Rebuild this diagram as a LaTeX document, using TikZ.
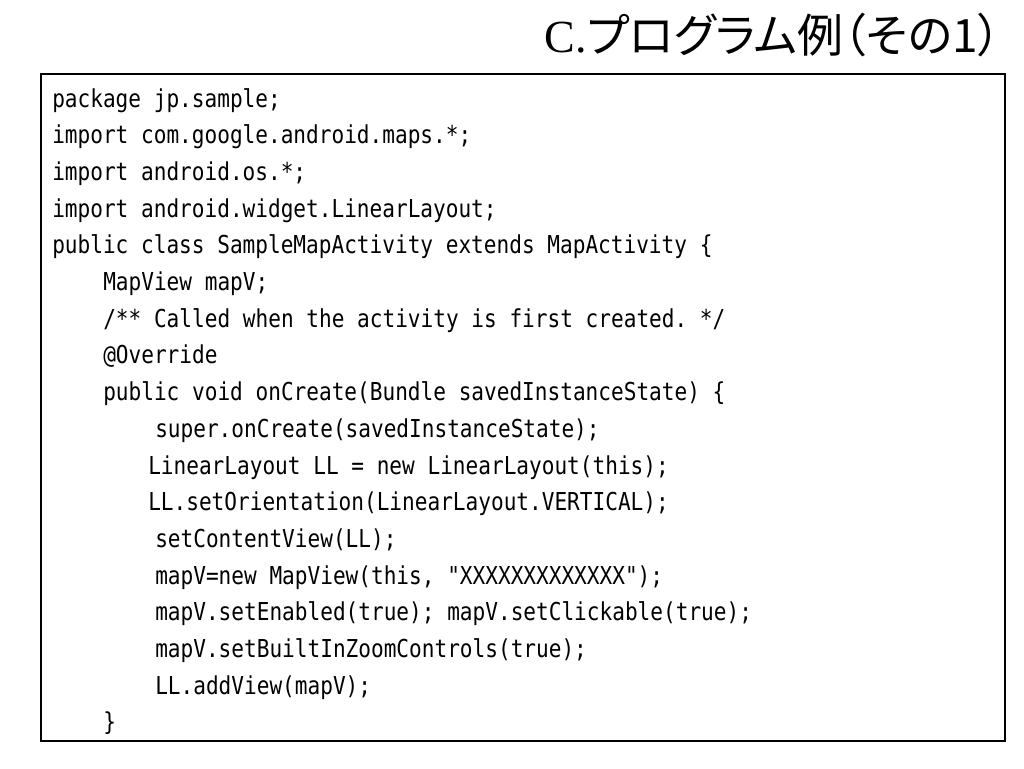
\documentclass[tikz,border=0pt]{standalone}
\usepackage{fontspec}
\setmonofont[FakeStretch=0.855]{DejaVu Sans Mono}
\newfontfamily\jpfont[RawFeature={+palt}]{Noto Sans CJK JP}
\newfontfamily\titleserif{Liberation Serif}
\newcommand\codefont{\ttfamily\fontsize{18.5}{18.5}\selectfont}

\begin{document}
\begin{tikzpicture}[
      x=0.75pt, y=-0.75pt,
      codeline/.style={anchor=base west, inner sep=0pt, font=\codefont},
      slide title/.style={anchor=base east, inner sep=0pt, font=\fontsize{34.5}{34.5}\selectfont}]
    \useasboundingbox (0,0) rectangle (1024,768);
    \node[slide title] (title) at (1001,52) {{\titleserif C.}{\jpfont プログラム例（その1）}};
    \draw[line width=1.9pt] (41,74) rectangle (1005,741);
    % code lines
    \node[codeline] (l1)  at (52,107)   {package jp.sample;};
    \node[codeline] (l2)  at (52,143.7) {import com.google.android.maps.*;};
    \node[codeline] (l3)  at (52,180.4) {import android.os.*;};
    \node[codeline] (l4)  at (52,217.1) {import android.widget.LinearLayout;};
    \node[codeline] (l5)  at (52,253.8) {public class SampleMapActivity extends MapActivity \{};
    \node[codeline] (l6)  at (103,290.5) {MapView mapV;};
    \node[codeline] (l7)  at (103,327.2) {/** Called when the activity is first created. */};
    \node[codeline] (l8)  at (103,363.9) {@Override};
    \node[codeline] (l9)  at (103,400.6) {public void onCreate(Bundle savedInstanceState) \{};
    \node[codeline] (l10) at (155,437.3) {super.onCreate(savedInstanceState);};
    \node[codeline] (l11) at (148,474)   {LinearLayout LL = new LinearLayout(this);};
    \node[codeline] (l12) at (148,510.7) {LL.setOrientation(LinearLayout.VERTICAL);};
    \node[codeline] (l13) at (155,547.4) {setContentView(LL);};
    \node[codeline] (l14) at (155,584.1) {mapV=new MapView(this, "XXXXXXXXXXXXX");};
    \node[codeline] (l15) at (155,620.8) {mapV.setEnabled(true); mapV.setClickable(true);};
    \node[codeline] (l16) at (155,657.5) {mapV.setBuiltInZoomControls(true);};
    \node[codeline] (l17) at (155,694.2) {LL.addView(mapV);};
    \node[codeline] (l18) at (103,730.9) {\}};
\end{tikzpicture}
\end{document}
